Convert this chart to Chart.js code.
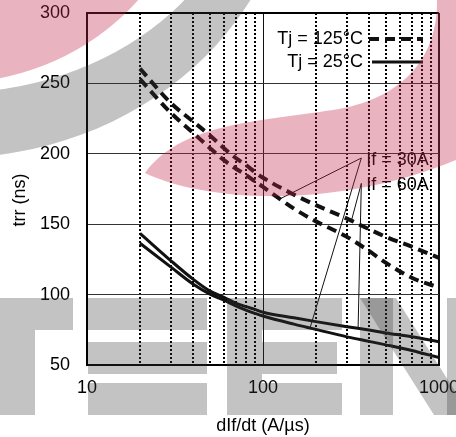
<!doctype html>
<html>
<head>
<meta charset="utf-8">
<title>trr vs dIf/dt</title>
<script src="https://cdn.jsdelivr.net/npm/chart.js"></script>
<style>
  html, body { margin: 0; padding: 0; background: #fff; }
</style>
</head>
<body>
<canvas id="trrChart" width="456" height="437"></canvas>
<script>
// dIf/dt (A/us) where the curves were read
const dIdt = [20, 30, 40, 50, 60, 70, 80, 90, 100, 150, 200, 300, 400, 500, 700, 1000];

// trr (ns)
const trr125_60A = [260.5, 236, 223, 213, 204, 197, 192, 187, 183, 171, 163.5, 154, 146.5, 141, 134, 126];
const trr125_30A = [253, 229, 215, 204, 195.5, 189.5, 185, 180.5, 176.5, 161, 152, 141, 131, 122.5, 112, 105];
const trr25_60A = [143.5, 124, 111, 102.5, 98, 94, 91.5, 89.5, 87.5, 83.5, 80.8, 77.2, 74.8, 72.8, 70, 66.5];
const trr25_30A = [136.5, 119.5, 107.5, 100.3, 96, 92, 89, 86.7, 84.8, 79, 75.3, 70, 66.8, 64.3, 60.3, 55.3];

// axes
const xGrid = [10, 20, 30, 40, 50, 60, 70, 80, 90, 100, 200, 300, 400, 500, 600, 700, 800, 900, 1000];
const xLabels = [10, 100, 1000];
const yTicks = [50, 100, 150, 200, 250, 300];
const xTitle = 'dIf/dt (A/µs)';
const yTitle = 'trr (ns)';

// legend and If callouts (leader lines go to points on the curves)
const legendItems = ['Tj = 125°C', 'Tj = 25°C'];
const calloutText = ['If = 30A', 'If = 60A'];
const calloutAnchor = [[362, 197], [362, 179]];
const calloutTargets = [[[125, 168], [185, 76.3]], [[318, 152.5], [347, 76]]];

const FONT = '"Liberation Sans", Arial, sans-serif';
const DASH = [10, 6];

function pts(ys) {
    return dIdt.map((x, i) => ({ x: x, y: ys[i] }));
}

function curve(ys, dashed) {
    return {
        data: pts(ys),
        borderColor: '#111',
        borderWidth: dashed ? 4 : 3,
        borderDash: dashed ? DASH : [],
        pointRadius: 0,
        fill: false,
        cubicInterpolationMode: 'monotone'
    };
}

const isDecade = v => xLabels.includes(v);

// no extra room for label overflow, the layout padding does it
function noOverflow(s) {
    s.paddingTop = 0;
    s.paddingBottom = 0;
    s.paddingLeft = 0;
    s.paddingRight = 0;
}

// labels, callouts, legend, then the logo watermark on top
const overlay = {
    id: 'overlay',
    afterDraw(chart) {
        const ctx = chart.ctx;
        const area = chart.chartArea;
        const px = v => chart.scales.x.getPixelForValue(v);
        const py = v => chart.scales.y.getPixelForValue(v);

        ctx.save();
        ctx.fillStyle = '#000';
        ctx.font = '18px ' + FONT;

        // y title
        ctx.save();
        ctx.translate(20, (area.top + area.bottom) / 2 + 11);
        ctx.rotate(-Math.PI / 2);
        ctx.textAlign = 'center';
        ctx.textBaseline = 'middle';
        ctx.fillText(yTitle, 0, 0);
        ctx.restore();

        // callouts
        ctx.strokeStyle = '#111';
        ctx.lineWidth = 1;
        ctx.textAlign = 'left';
        ctx.textBaseline = 'middle';
        calloutText.forEach((t, i) => {
            const a = calloutAnchor[i];
            calloutTargets[i].forEach(p => {
                ctx.beginPath();
                ctx.moveTo(px(a[0]), py(a[1]));
                ctx.lineTo(px(p[0]), py(p[1]));
                ctx.stroke();
            });
            ctx.fillText(t, px(a[0]) + 5, py(a[1]) + 2);
        });

        // legend
        ctx.textAlign = 'right';
        legendItems.forEach((t, i) => {
            const y = 39 + i * 23;
            ctx.fillText(t, 363, y);
            ctx.beginPath();
            ctx.setLineDash(i === 0 ? DASH : []);
            ctx.lineWidth = i === 0 ? 4 : 3;
            ctx.moveTo(i === 0 ? 369 : 372, y);
            ctx.lineTo(423, y);
            ctx.stroke();
        });
        ctx.setLineDash([]);

        // watermark
        const pink = 'rgba(192, 41, 75, 0.35)';
        const gray = 'rgba(55, 55, 55, 0.3)';

        ctx.fillStyle = pink;
        ctx.beginPath();
        ctx.ellipse(-50, -150, 246, 233, 0, 0, Math.PI * 2);
        ctx.fill();

        ctx.beginPath();
        ctx.moveTo(145, 173);
        ctx.bezierCurveTo(200, 200, 330, 212, 456, 160);
        ctx.lineTo(456, 0);
        ctx.lineTo(437, 0);
        ctx.bezierCurveTo(438, 60, 400, 100, 333, 110);
        ctx.bezierCurveTo(250, 122, 180, 125, 145, 173);
        ctx.closePath();
        ctx.fill();

        // gray swoosh: outer ellipse one way, inner the other way
        ctx.fillStyle = gray;
        ctx.beginPath();
        ctx.ellipse(-50, -150, 344, 308, 0, 0, Math.PI * 2, false);
        ctx.closePath();
        ctx.moveTo(-50 + 298, -150);
        ctx.ellipse(-50, -150, 298, 243, 0, 0, Math.PI * 2, true);
        ctx.closePath();
        ctx.fill();

        ctx.beginPath();
        // T
        ctx.rect(0, 298, 73, 32);
        ctx.rect(0, 330, 35, 85);
        // E bars
        ctx.rect(88, 298, 119, 32);
        ctx.rect(88, 342, 119, 32);
        ctx.rect(88, 383, 119, 32);
        // E
        ctx.rect(227, 298, 115, 32);
        ctx.rect(227, 330, 35, 12);
        ctx.rect(227, 342, 110, 32);
        ctx.rect(227, 374, 35, 9);
        ctx.rect(227, 383, 115, 32);
        // N
        ctx.rect(360, 298, 33, 117);
        ctx.rect(447, 298, 40, 117);
        ctx.fill();
        ctx.beginPath();
        ctx.moveTo(360, 298);
        ctx.lineTo(396, 298);
        ctx.lineTo(470, 415);
        ctx.lineTo(434, 415);
        ctx.closePath();
        ctx.fill();

        ctx.restore();
    }
};

new Chart(document.getElementById('trrChart').getContext('2d'), {
    type: 'line',
    data: {
        datasets: [
            curve(trr125_60A, true),
            curve(trr125_30A, true),
            curve(trr25_60A, false),
            curve(trr25_30A, false)
        ]
    },
    options: {
        responsive: false,
        animation: false,
        devicePixelRatio: 1,
        layout: { padding: { top: 13, right: 17, left: 0, bottom: 0 } },
        plugins: {
            legend: { display: false },
            tooltip: { enabled: false }
        },
        scales: {
            x: {
                type: 'logarithmic',
                min: 10,
                max: 1000,
                afterBuildTicks: s => { s.ticks = xGrid.map(v => ({ value: v })); },
                afterFit: s => { s.height = 72; noOverflow(s); },
                ticks: {
                    autoSkip: false,
                    maxRotation: 0,
                    padding: 12,
                    color: '#000',
                    font: { family: FONT, size: 18 },
                    callback: v => isDecade(v) ? String(v) : ''
                },
                grid: {
                    drawTicks: false,
                    color: c => (c.tick && isDecade(c.tick.value)) ? '#111' : '#000',
                    lineWidth: c => (c.tick && c.tick.value === 1000) ? 2 : ((c.tick && isDecade(c.tick.value)) ? 1 : 2)
                },
                border: {
                    display: true,
                    color: '#000',
                    width: 2,
                    dash: c => (c.tick && !isDecade(c.tick.value)) ? [2, 2] : []
                },
                title: {
                    display: true,
                    text: xTitle,
                    color: '#000',
                    padding: { top: 0, bottom: 0 },
                    font: { family: FONT, size: 18 }
                }
            },
            y: {
                type: 'linear',
                min: 50,
                max: 300,
                afterBuildTicks: s => { s.ticks = yTicks.map(v => ({ value: v })); },
                afterFit: s => { s.width = 87; noOverflow(s); },
                ticks: {
                    padding: 17,
                    color: '#000',
                    font: { family: FONT, size: 18 }
                },
                grid: {
                    drawTicks: false,
                    color: c => (c.tick && (c.tick.value === 300 || c.tick.value === 50)) ? '#000' : '#333',
                    lineWidth: c => (c.tick && (c.tick.value === 300 || c.tick.value === 50)) ? 2 : 1
                },
                border: { display: true, color: '#000', width: 2 }
            }
        }
    },
    plugins: [overlay]
});
</script>
</body>
</html>
